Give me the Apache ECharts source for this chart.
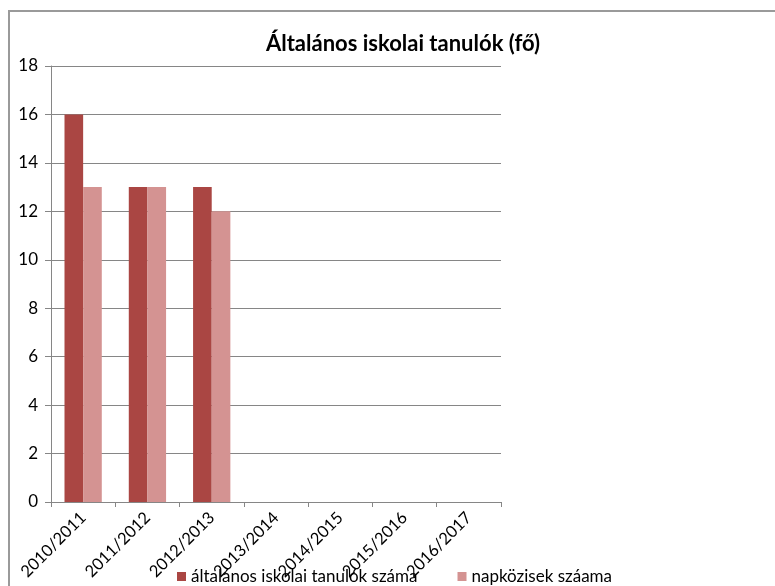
<!DOCTYPE html>
<html>
<head>
<meta charset="utf-8">
<script src="https://cdn.jsdelivr.net/npm/echarts@6/dist/echarts.min.js"></script>
<style>html,body{margin:0;padding:0;background:#fff}#c{width:775px;height:586px}</style>
</head>
<body>
<div id="c"></div>
<script>
var categories = ['2010/2011','2011/2012','2012/2013','2013/2014','2014/2015','2015/2016','2016/2017'];
var tanulok = [16, 13, 13, null, null, null, null];
var napkozisek = [13, 13, 12, null, null, null, null];
var seriesNames = ['általános iskolai tanulók száma', 'napközisek száama'];
var yTicks = {min: 0, max: 18, interval: 2};
var titleText = 'Általános iskolai tanulók (fő)';

var font = 'Lato, "Open Sans", sans-serif';
var chart = echarts.init(document.getElementById('c'));
chart.setOption({
  animation: false,
  backgroundColor: '#fff',
  textStyle: {fontFamily: font},
  graphic: [{
    type: 'rect', shape: {x: 9, y: 11, width: 800, height: 620},
    style: {fill: 'none', stroke: '#9a9a9a', lineWidth: 2}, silent: true, z: -1
  }],
  title: {
    text: titleText, left: 398, textAlign: 'center', top: 28,
    textStyle: {fontFamily: font, fontWeight: 'bold', fontSize: 22, color: '#000'}
  },
  legend: {
    left: 172, top: 563, itemGap: 40, icon: 'rect', itemWidth: 9, itemHeight: 9,
    textStyle: {fontFamily: font, fontSize: 17, color: '#000'},
    data: seriesNames
  },
  grid: {left: 51, right: 274, top: 66, bottom: 84, containLabel: false},
  xAxis: {
    type: 'category', data: categories,
    axisLine: {lineStyle: {color: '#868686', width: 1}},
    axisTick: {show: true, length: 5, lineStyle: {color: '#868686'}},
    axisLabel: {rotate: 45, fontSize: 16.5, color: '#000', margin: 13, interval: 0, fontFamily: font},
    splitLine: {show: false}
  },
  yAxis: {
    type: 'value', min: yTicks.min, max: yTicks.max, interval: yTicks.interval,
    axisLine: {show: true, lineStyle: {color: '#868686', width: 1}},
    axisTick: {show: true, length: 6, lineStyle: {color: '#868686'}},
    axisLabel: {fontSize: 17, color: '#000', margin: 13, fontFamily: font},
    splitLine: {show: true, lineStyle: {color: '#868686', width: 1}}
  },
  series: [
    {name: seriesNames[0], type: 'bar', data: tanulok, barGap: '0%', barCategoryGap: '42%',
     itemStyle: {color: '#AA4643'}},
    {name: seriesNames[1], type: 'bar', data: napkozisek, barGap: '0%', barCategoryGap: '42%',
     itemStyle: {color: '#D49392'}}
  ]
});
</script>
</body>
</html>
